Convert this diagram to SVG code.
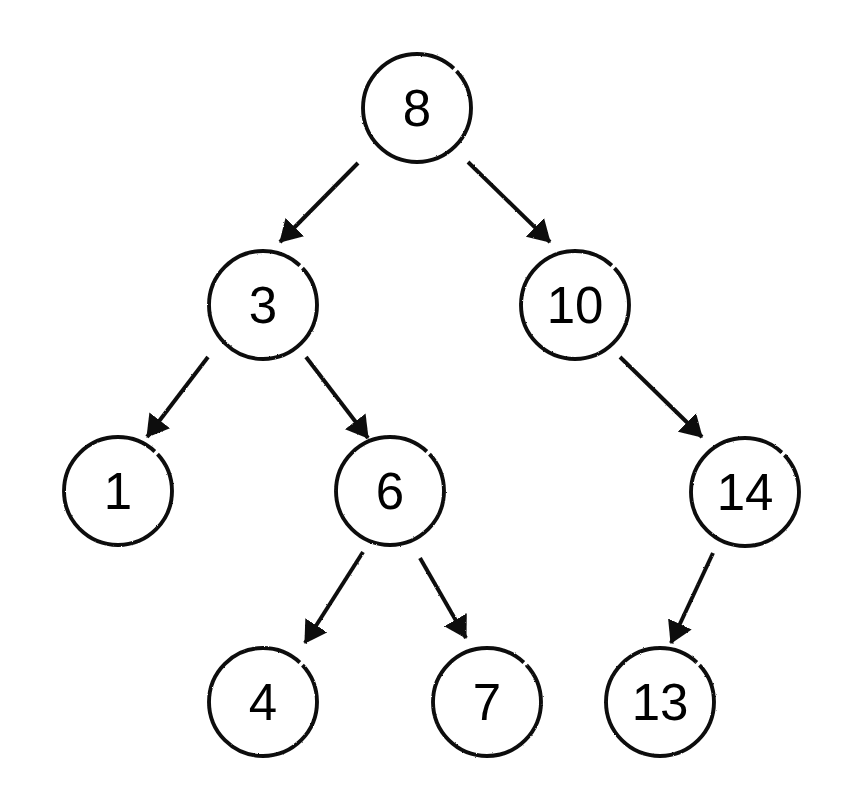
<svg xmlns="http://www.w3.org/2000/svg" width="846" height="812" viewBox="0 0 846 812">
  <style>
    .node circle { fill: none; stroke: #111; stroke-width: 3.9; stroke-dasharray: 313 4 43 0; }
    .node text { font-family: "Liberation Sans", Arial, sans-serif; font-size: 51px; fill: #000; text-anchor: middle; }
    .edge { stroke: #111; stroke-width: 4; fill: none; stroke-linecap: butt; marker-end: url(#arrow); }
  </style>
  <defs>
    <filter id="rough" x="-5%" y="-5%" width="110%" height="110%">
      <feTurbulence type="fractalNoise" baseFrequency="0.9" numOctaves="2" seed="3" result="n"/>
      <feDisplacementMap in="SourceGraphic" in2="n" scale="1.8" xChannelSelector="R" yChannelSelector="G"/>
    </filter>
    <marker id="arrow" markerUnits="userSpaceOnUse" viewBox="0 0 22 26" refX="21" refY="13" markerWidth="22" markerHeight="26" orient="auto">
      <path d="M0,0 L22,13 L0,26 Z" fill="#111"/>
    </marker>
  </defs>
  <rect width="846" height="812" fill="#fff"/>
  <g id="connectors" filter="url(#rough)">
    <line class="edge" x1="358" y1="163" x2="280" y2="242"/>
    <line class="edge" x1="468" y1="162" x2="550" y2="242"/>
    <line class="edge" x1="208" y1="357" x2="147" y2="437"/>
    <line class="edge" x1="306" y1="357" x2="368" y2="438"/>
    <line class="edge" x1="620" y1="357" x2="702" y2="437"/>
    <line class="edge" x1="363" y1="552" x2="305" y2="643"/>
    <line class="edge" x1="420" y1="558" x2="466" y2="638"/>
    <line class="edge" x1="713" y1="553" x2="671" y2="643"/>
  </g>
  <g id="node-8" class="node"><circle cx="417" cy="108" r="54" pathLength="360" filter="url(#rough)"/><text x="417" y="126">8</text></g>
  <g id="node-3" class="node"><circle cx="263" cy="305" r="54" pathLength="360" filter="url(#rough)"/><text x="263" y="323">3</text></g>
  <g id="node-10" class="node"><circle cx="575" cy="305" r="54" pathLength="360" filter="url(#rough)"/><text x="575" y="323">10</text></g>
  <g id="node-1" class="node"><circle cx="118" cy="491" r="54" pathLength="360" filter="url(#rough)"/><text x="118" y="509">1</text></g>
  <g id="node-6" class="node"><circle cx="390" cy="491" r="54" pathLength="360" filter="url(#rough)"/><text x="390" y="509">6</text></g>
  <g id="node-14" class="node"><circle cx="745" cy="492" r="54" pathLength="360" filter="url(#rough)"/><text x="745" y="510">14</text></g>
  <g id="node-4" class="node"><circle cx="263" cy="702" r="54" pathLength="360" filter="url(#rough)"/><text x="263" y="720">4</text></g>
  <g id="node-7" class="node"><circle cx="487" cy="702" r="54" pathLength="360" filter="url(#rough)"/><text x="487" y="720">7</text></g>
  <g id="node-13" class="node"><circle cx="660" cy="702" r="54" pathLength="360" filter="url(#rough)"/><text x="660" y="720">13</text></g>
</svg>
